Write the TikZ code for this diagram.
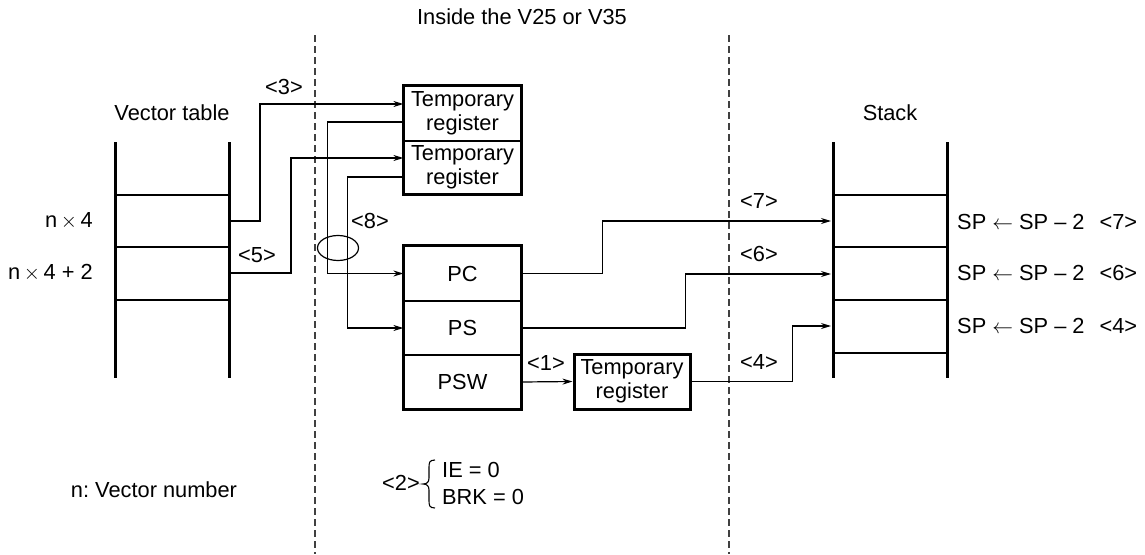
\documentclass[tikz,border=0pt]{standalone}
\usepackage{fontspec}
\setmainfont{Liberation Sans}
\usetikzlibrary{arrows.meta,shapes.geometric}
\frenchspacing
\begin{document}
\begin{tikzpicture}[x=1pt,y=-1pt,
  txt/.style={font=\fontsize{21.8}{25}\selectfont, inner sep=0pt},
  cell/.style={txt, draw, line width=1.2pt, minimum width=117pt, align=center},
  thinline/.style={line width=1.2pt},
  heavy/.style={line width=3pt},
  arr/.style={line width=1.2pt, -{Stealth[length=10pt,width=6pt]}},
  divider/.style={line width=1.2pt, dash pattern=on 7pt off 4pt, black!75},
]
\useasboundingbox (0,0) rectangle (1145,554);

% dashed boundaries of the chip
\draw[divider] (315,35) -- (315,554);
\draw[divider] (729,35) -- (729,554);
\node[txt] (title) at (522,17) {Inside the V25 or V35};

% vector table
\node[txt] (vtlabel) at (172,113) {Vector table};
\draw[heavy] (115,142) -- (115,378);
\draw[heavy] (229,142) -- (229,378);
\foreach \yy in {195,247,300} \draw[thinline] (115,\yy) -- (229,\yy);
\node[txt, anchor=east] (n4) at (93,221) {n\,$\times$\,4};
\node[txt, anchor=east] (n42) at (93,273) {n\,$\times$\,4 + 2};
\coordinate (vt1) at (229,221);
\coordinate (vt2) at (229,273);

% stack
\node[txt] (stlabel) at (890,113) {Stack};
\draw[heavy] (833,142) -- (833,378);
\draw[heavy] (947,142) -- (947,378);
\foreach \yy in {195,247,300,353} \draw[thinline] (833,\yy) -- (947,\yy);
\coordinate (st7) at (831,221);
\coordinate (st6) at (831,274);
\coordinate (st4) at (831,326);
\node[txt, anchor=west] (sp7) at (957,222) {SP $\leftarrow$ SP – 2\hspace{15pt}<7>};
\node[txt, anchor=west] (sp6) at (957,273) {SP $\leftarrow$ SP – 2\hspace{15pt}<6>};
\node[txt, anchor=west] (sp4) at (957,326) {SP $\leftarrow$ SP – 2\hspace{15pt}<4>};

% temporary registers
\node[cell, minimum height=55pt] (tr1) at (462.5,113.5) {Temporary\\[-1pt]register};
\node[cell, minimum height=53pt] (tr2) at (462.5,167.5) {Temporary\\[-1pt]register};
\draw[heavy] (tr1.north west) rectangle (tr2.south east);

% PC / PS / PSW
\node[cell, minimum height=55pt] (pc) at (462.5,273.5) {PC};
\node[cell, minimum height=54pt] (ps) at (462.5,328) {PS};
\node[cell, minimum height=54pt] (psw) at (462.5,382) {PSW};
\draw[heavy] (pc.north west) rectangle (psw.south east);

% temporary register 3
\node[cell, minimum width=116pt, minimum height=55pt, line width=3pt] (tr3) at (632,381.5) {Temporary\\[-1pt]register};

% connectors
\draw[arr] (vt1) -- ++(31,0) |- ([yshift=9.5pt]tr1.west);
\draw[arr] (vt2) -- ++(62,0) |- ([yshift=9.5pt]tr2.west);
\draw[arr] ([yshift=-8.5pt]tr1.west) -- ++(-76,0) |- (pc.west);
\draw[arr] ([yshift=-9.5pt]tr2.west) -- ++(-56,0) |- (ps.west);
\draw[arr] (pc.east) -- ++(81,0) |- (st7);
\draw[arr] (ps.east) -- ++(164,0) |- (st6);
\draw[arr] (psw.east) -- (tr3.west);
\draw[arr] (tr3.east) -- ++(101,0) |- (st4);

% ellipse around the two lines
\node[draw, ellipse, line width=1.2pt, minimum width=41pt, minimum height=25pt, inner sep=0pt] (ring) at (338,248) {};

% step labels
\node[txt] (l3) at (284,87) {<3>};
\node[txt] (l5) at (257,255) {<5>};
\node[txt] (l8) at (370,221) {<8>};
\node[txt] (l7) at (759,201) {<7>};
\node[txt] (l6) at (759,254) {<6>};
\node[txt] (l4) at (759,362) {<4>};
\node[txt] (l1) at (546,363) {<1>};

% notes
\node[txt] (note) at (154,490) {n: Vector number};
\node[txt, anchor=east] (l2) at (420,483) {<2>};
\draw[line width=1.1pt] (435,460) .. controls (429,460) and (429,463) .. (429,468)
  -- (429,478) .. controls (429,482) and (427,484) .. (423,484)
  .. controls (427,484) and (429,486) .. (429,490)
  -- (429,500) .. controls (429,505) and (429,508) .. (435,508);
\node[txt, anchor=west] (ie) at (442,470) {IE = 0};
\node[txt, anchor=west] (brk) at (442,497) {BRK = 0};
\end{tikzpicture}
\end{document}
